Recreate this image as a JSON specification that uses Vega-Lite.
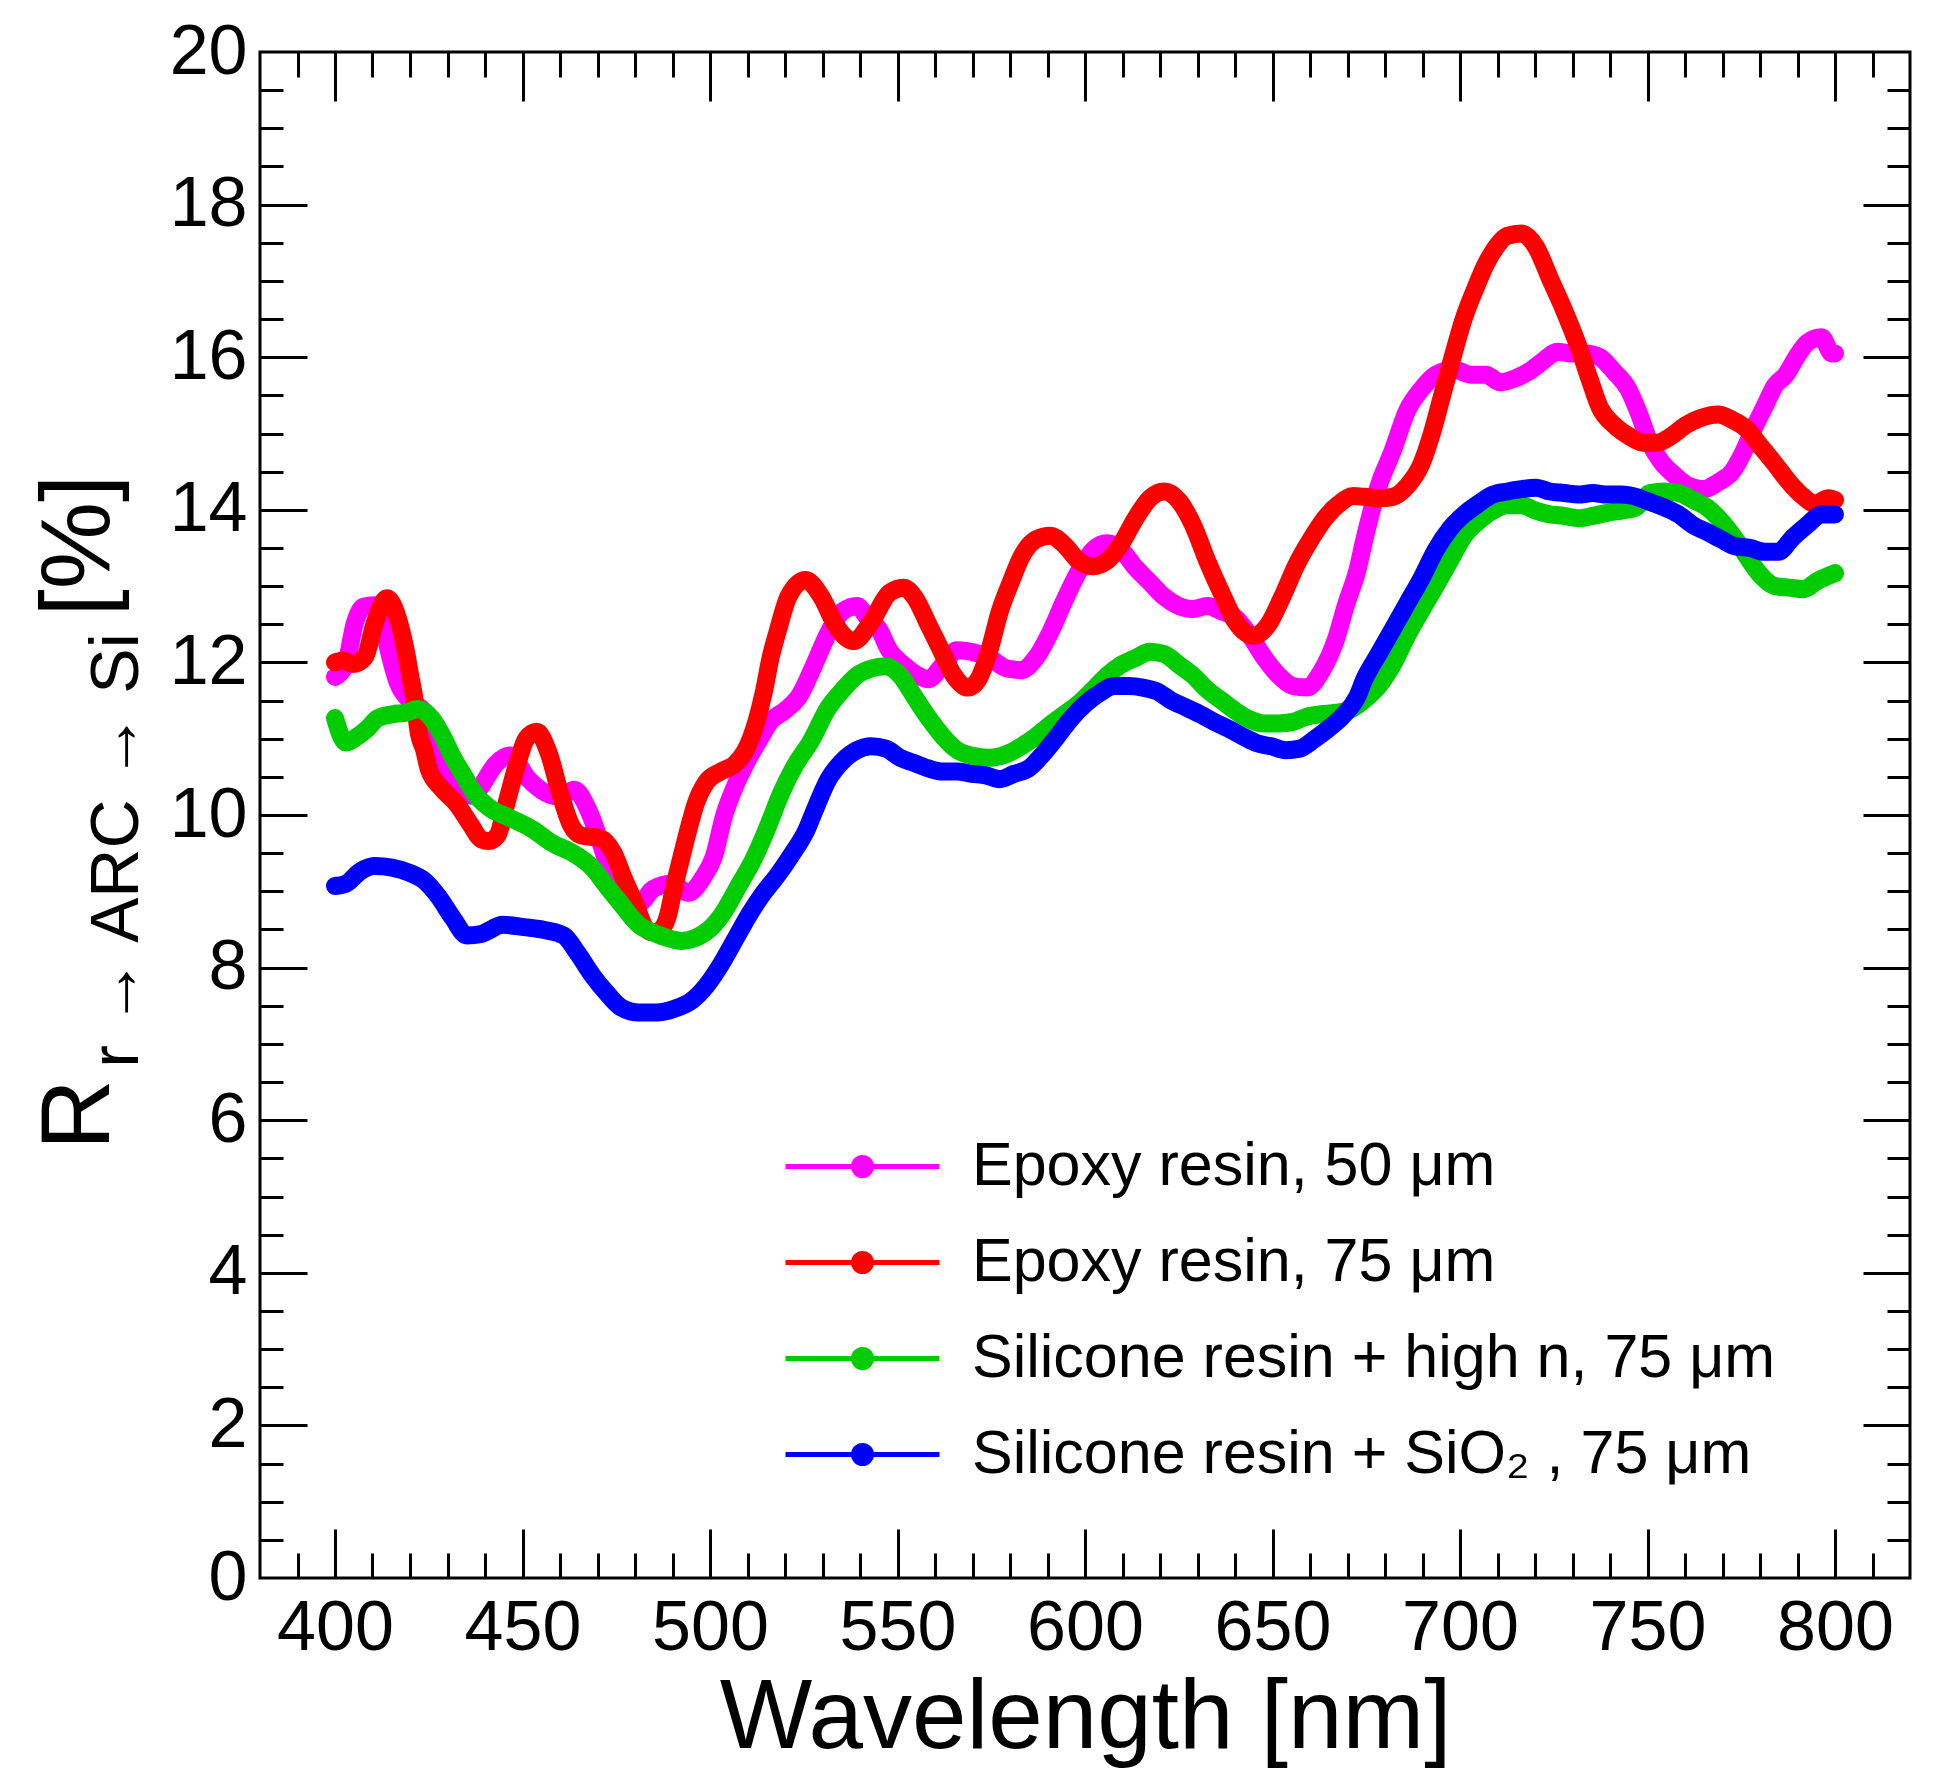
{
  "$schema": "https://vega.github.io/schema/vega-lite/v6.json",
  "autosize": "none",
  "width": 1650,
  "height": 1526,
  "padding": {"left": 260, "top": 52, "right": 31, "bottom": 203},
  "background": "white",
  "config": {
    "font": "Liberation Sans",
    "view": {"stroke": "black", "strokeWidth": 3},
    "axis": {
      "labelFont": "Liberation Sans",
      "titleFont": "Liberation Sans",
      "labelColor": "black",
      "titleColor": "black",
      "titleFontWeight": "normal",
      "tickColor": "black",
      "tickWidth": 3,
      "grid": false,
      "domain": false
    }
  },
  "data": {
    "values": [
      {"s":"E50","wl":400,"R":11.81},{"s":"E50","wl":402.9,"R":11.98},{"s":"E50","wl":405.2,"R":12.5},{"s":"E50","wl":407.6,"R":12.73},
      {"s":"E50","wl":410.5,"R":12.75},{"s":"E50","wl":412.4,"R":12.59},{"s":"E50","wl":414.3,"R":12.16},{"s":"E50","wl":416.7,"R":11.74},
      {"s":"E50","wl":420,"R":11.5},{"s":"E50","wl":423.8,"R":11.36},{"s":"E50","wl":426.7,"R":11.13},{"s":"E50","wl":428.6,"R":10.76},
      {"s":"E50","wl":431.4,"R":10.48},{"s":"E50","wl":434.3,"R":10.29},{"s":"E50","wl":437,"R":10.25},{"s":"E50","wl":439,"R":10.38},
      {"s":"E50","wl":442.9,"R":10.67},{"s":"E50","wl":446.7,"R":10.78},{"s":"E50","wl":451.4,"R":10.48},{"s":"E50","wl":456.2,"R":10.29},
      {"s":"E50","wl":460,"R":10.24},{"s":"E50","wl":463.8,"R":10.33},{"s":"E50","wl":467.6,"R":10.06},{"s":"E50","wl":470.5,"R":9.68},
      {"s":"E50","wl":474.3,"R":9.12},{"s":"E50","wl":477.1,"R":8.84},{"s":"E50","wl":481,"R":8.84},{"s":"E50","wl":484.8,"R":9.03},
      {"s":"E50","wl":489.5,"R":9.1},{"s":"E50","wl":494.3,"R":8.98},{"s":"E50","wl":498,"R":9.17},{"s":"E50","wl":501,"R":9.45},
      {"s":"E50","wl":503.8,"R":10.0},{"s":"E50","wl":506.7,"R":10.38},{"s":"E50","wl":509.5,"R":10.67},{"s":"E50","wl":513.3,"R":11.0},
      {"s":"E50","wl":516.2,"R":11.23},{"s":"E50","wl":520,"R":11.37},{"s":"E50","wl":523.8,"R":11.56},{"s":"E50","wl":527.8,"R":11.97},
      {"s":"E50","wl":531.6,"R":12.39},{"s":"E50","wl":535.4,"R":12.67},{"s":"E50","wl":539.2,"R":12.74},{"s":"E50","wl":542.1,"R":12.58},
      {"s":"E50","wl":545,"R":12.44},{"s":"E50","wl":547.8,"R":12.16},{"s":"E50","wl":551.6,"R":11.97},{"s":"E50","wl":555.4,"R":11.83},
      {"s":"E50","wl":558.3,"R":11.78},{"s":"E50","wl":562.1,"R":11.97},{"s":"E50","wl":565.9,"R":12.16},{"s":"E50","wl":569.7,"R":12.14},
      {"s":"E50","wl":574.5,"R":12.06},{"s":"E50","wl":579.2,"R":11.92},{"s":"E50","wl":583,"R":11.9},{"s":"E50","wl":586.9,"R":12.06},
      {"s":"E50","wl":590.7,"R":12.39},{"s":"E50","wl":594.5,"R":12.81},{"s":"E50","wl":598.3,"R":13.19},{"s":"E50","wl":602.1,"R":13.47},
      {"s":"E50","wl":605.9,"R":13.56},{"s":"E50","wl":609.7,"R":13.47},{"s":"E50","wl":613.5,"R":13.24},{"s":"E50","wl":617.3,"R":13.05},
      {"s":"E50","wl":621.1,"R":12.86},{"s":"E50","wl":625,"R":12.74},{"s":"E50","wl":628.8,"R":12.7},{"s":"E50","wl":632.6,"R":12.74},
      {"s":"E50","wl":636.4,"R":12.67},{"s":"E50","wl":640.2,"R":12.58},{"s":"E50","wl":644,"R":12.35},{"s":"E50","wl":647.8,"R":12.06},
      {"s":"E50","wl":651.6,"R":11.83},{"s":"E50","wl":655.4,"R":11.69},{"s":"E50","wl":659.2,"R":11.67},{"s":"E50","wl":663,"R":11.88},
      {"s":"E50","wl":666.9,"R":12.3},{"s":"E50","wl":669.7,"R":12.77},{"s":"E50","wl":672.6,"R":13.2},{"s":"E50","wl":674.5,"R":13.61},
      {"s":"E50","wl":678.3,"R":14.31},{"s":"E50","wl":682.1,"R":14.78},{"s":"E50","wl":685.9,"R":15.3},{"s":"E50","wl":689.7,"R":15.58},
      {"s":"E50","wl":693.5,"R":15.77},{"s":"E50","wl":698.3,"R":15.84},{"s":"E50","wl":703,"R":15.77},{"s":"E50","wl":706.9,"R":15.77},
      {"s":"E50","wl":710.7,"R":15.67},{"s":"E50","wl":714.5,"R":15.72},{"s":"E50","wl":718.3,"R":15.81},{"s":"E50","wl":722.1,"R":15.95},
      {"s":"E50","wl":725.9,"R":16.07},{"s":"E50","wl":729.7,"R":16.05},{"s":"E50","wl":733.5,"R":16.05},{"s":"E50","wl":737.3,"R":16.0},
      {"s":"E50","wl":741.1,"R":15.81},{"s":"E50","wl":744.9,"R":15.58},{"s":"E50","wl":747.8,"R":15.25},{"s":"E50","wl":750.6,"R":14.88},
      {"s":"E50","wl":753.5,"R":14.64},{"s":"E50","wl":757.3,"R":14.45},{"s":"E50","wl":761.1,"R":14.31},{"s":"E50","wl":764.9,"R":14.27},
      {"s":"E50","wl":768.8,"R":14.36},{"s":"E50","wl":772.6,"R":14.5},{"s":"E50","wl":775.4,"R":14.74},{"s":"E50","wl":778.3,"R":15.06},
      {"s":"E50","wl":781.1,"R":15.34},{"s":"E50","wl":784,"R":15.63},{"s":"E50","wl":786.9,"R":15.77},{"s":"E50","wl":789.7,"R":16.0},
      {"s":"E50","wl":792.6,"R":16.19},{"s":"E50","wl":796.4,"R":16.26},{"s":"E50","wl":799.2,"R":16.05},{"s":"E50","wl":800,"R":16.05},

      {"s":"E75","wl":400,"R":12.0},{"s":"E75","wl":402,"R":12.02},{"s":"E75","wl":405,"R":11.98},{"s":"E75","wl":408,"R":12.07},
      {"s":"E75","wl":410.5,"R":12.5},{"s":"E75","wl":413.8,"R":12.84},{"s":"E75","wl":416.7,"R":12.59},{"s":"E75","wl":418,"R":12.35},
      {"s":"E75","wl":419,"R":12.12},{"s":"E75","wl":420,"R":11.84},{"s":"E75","wl":421,"R":11.58},{"s":"E75","wl":422.4,"R":11.06},
      {"s":"E75","wl":423.8,"R":10.85},{"s":"E75","wl":425,"R":10.6},{"s":"E75","wl":428.6,"R":10.34},{"s":"E75","wl":432.4,"R":10.15},
      {"s":"E75","wl":436.2,"R":9.87},{"s":"E75","wl":439,"R":9.68},{"s":"E75","wl":441,"R":9.66},{"s":"E75","wl":443.3,"R":9.73},
      {"s":"E75","wl":445.7,"R":10.15},{"s":"E75","wl":448.6,"R":10.67},{"s":"E75","wl":451,"R":11.0},{"s":"E75","wl":453.8,"R":11.09},
      {"s":"E75","wl":457,"R":10.81},{"s":"E75","wl":460,"R":10.29},{"s":"E75","wl":462.9,"R":9.87},{"s":"E75","wl":465.7,"R":9.73},
      {"s":"E75","wl":470.5,"R":9.7},{"s":"E75","wl":474.3,"R":9.5},{"s":"E75","wl":477,"R":9.17},{"s":"E75","wl":480,"R":8.84},
      {"s":"E75","wl":482.9,"R":8.51},{"s":"E75","wl":484.8,"R":8.46},{"s":"E75","wl":487,"R":8.5},{"s":"E75","wl":488.6,"R":8.65},
      {"s":"E75","wl":490.5,"R":9.07},{"s":"E75","wl":492.4,"R":9.45},{"s":"E75","wl":494.3,"R":9.82},{"s":"E75","wl":496.2,"R":10.15},
      {"s":"E75","wl":499,"R":10.43},{"s":"E75","wl":502.9,"R":10.57},{"s":"E75","wl":506.7,"R":10.67},{"s":"E75","wl":509.5,"R":10.85},
      {"s":"E75","wl":512.4,"R":11.23},{"s":"E75","wl":514.3,"R":11.6},{"s":"E75","wl":516.2,"R":12.07},{"s":"E75","wl":518,"R":12.4},
      {"s":"E75","wl":521,"R":12.87},{"s":"E75","wl":525.5,"R":13.08},{"s":"E75","wl":529.7,"R":12.86},{"s":"E75","wl":533.5,"R":12.49},
      {"s":"E75","wl":538.3,"R":12.28},{"s":"E75","wl":543,"R":12.53},{"s":"E75","wl":547.8,"R":12.91},{"s":"E75","wl":551.6,"R":12.98},
      {"s":"E75","wl":554.5,"R":12.86},{"s":"E75","wl":558.3,"R":12.49},{"s":"E75","wl":562.1,"R":12.11},{"s":"E75","wl":565,"R":11.83},
      {"s":"E75","wl":568.8,"R":11.67},{"s":"E75","wl":571.6,"R":11.78},{"s":"E75","wl":574.5,"R":12.16},{"s":"E75","wl":577.3,"R":12.67},
      {"s":"E75","wl":580.2,"R":13.05},{"s":"E75","wl":583,"R":13.38},{"s":"E75","wl":586.9,"R":13.61},{"s":"E75","wl":590.7,"R":13.66},
      {"s":"E75","wl":594.5,"R":13.54},{"s":"E75","wl":598.3,"R":13.33},{"s":"E75","wl":602.1,"R":13.26},{"s":"E75","wl":605.9,"R":13.33},
      {"s":"E75","wl":609.7,"R":13.56},{"s":"E75","wl":613.5,"R":13.89},{"s":"E75","wl":617.3,"R":14.15},{"s":"E75","wl":621.1,"R":14.24},
      {"s":"E75","wl":625,"R":14.12},{"s":"E75","wl":628.8,"R":13.8},{"s":"E75","wl":632.6,"R":13.33},{"s":"E75","wl":636.4,"R":12.91},
      {"s":"E75","wl":640.2,"R":12.53},{"s":"E75","wl":645,"R":12.35},{"s":"E75","wl":648.8,"R":12.49},{"s":"E75","wl":652.6,"R":12.86},
      {"s":"E75","wl":656.4,"R":13.28},{"s":"E75","wl":660.2,"R":13.61},{"s":"E75","wl":664,"R":13.89},{"s":"E75","wl":667.8,"R":14.08},
      {"s":"E75","wl":671.6,"R":14.18},{"s":"E75","wl":674.5,"R":14.17},{"s":"E75","wl":678.3,"R":14.15},{"s":"E75","wl":682.1,"R":14.17},
      {"s":"E75","wl":685.9,"R":14.31},{"s":"E75","wl":689.7,"R":14.6},{"s":"E75","wl":692.6,"R":15.02},{"s":"E75","wl":695.4,"R":15.53},
      {"s":"E75","wl":698.3,"R":16.05},{"s":"E75","wl":701.1,"R":16.52},{"s":"E75","wl":704,"R":16.89},{"s":"E75","wl":706.9,"R":17.22},
      {"s":"E75","wl":709.7,"R":17.45},{"s":"E75","wl":712.6,"R":17.59},{"s":"E75","wl":716.4,"R":17.62},{"s":"E75","wl":720.2,"R":17.45},
      {"s":"E75","wl":724,"R":17.03},{"s":"E75","wl":727.8,"R":16.61},{"s":"E75","wl":731.6,"R":16.14},{"s":"E75","wl":734.5,"R":15.72},
      {"s":"E75","wl":737.3,"R":15.34},{"s":"E75","wl":741.1,"R":15.11},{"s":"E75","wl":744.9,"R":14.97},{"s":"E75","wl":748.8,"R":14.88},
      {"s":"E75","wl":752.6,"R":14.88},{"s":"E75","wl":756.4,"R":14.97},{"s":"E75","wl":760.2,"R":15.11},{"s":"E75","wl":764,"R":15.2},
      {"s":"E75","wl":768.8,"R":15.25},{"s":"E75","wl":772.6,"R":15.18},{"s":"E75","wl":776.4,"R":15.06},{"s":"E75","wl":780.2,"R":14.83},
      {"s":"E75","wl":784,"R":14.6},{"s":"E75","wl":787.8,"R":14.36},{"s":"E75","wl":791.6,"R":14.17},{"s":"E75","wl":794.5,"R":14.08},
      {"s":"E75","wl":798.3,"R":14.15},{"s":"E75","wl":800,"R":14.13},

      {"s":"SHN","wl":400,"R":11.27},{"s":"SHN","wl":402.9,"R":10.95},{"s":"SHN","wl":405.7,"R":11.02},{"s":"SHN","wl":408.6,"R":11.13},
      {"s":"SHN","wl":411.4,"R":11.27},{"s":"SHN","wl":415.2,"R":11.32},{"s":"SHN","wl":419,"R":11.34},{"s":"SHN","wl":421.9,"R":11.39},
      {"s":"SHN","wl":425.7,"R":11.27},{"s":"SHN","wl":428.6,"R":11.04},{"s":"SHN","wl":431.4,"R":10.76},{"s":"SHN","wl":434.3,"R":10.52},
      {"s":"SHN","wl":437.1,"R":10.29},{"s":"SHN","wl":441,"R":10.1},{"s":"SHN","wl":446.7,"R":9.96},{"s":"SHN","wl":452.4,"R":9.82},
      {"s":"SHN","wl":458,"R":9.63},{"s":"SHN","wl":463.8,"R":9.49},{"s":"SHN","wl":468.6,"R":9.31},{"s":"SHN","wl":472.4,"R":9.07},
      {"s":"SHN","wl":476.2,"R":8.84},{"s":"SHN","wl":481,"R":8.56},{"s":"SHN","wl":484.8,"R":8.46},{"s":"SHN","wl":488.6,"R":8.39},
      {"s":"SHN","wl":492.4,"R":8.35},{"s":"SHN","wl":496.2,"R":8.39},{"s":"SHN","wl":500,"R":8.51},{"s":"SHN","wl":503.8,"R":8.74},
      {"s":"SHN","wl":507.6,"R":9.07},{"s":"SHN","wl":511.4,"R":9.4},{"s":"SHN","wl":515.2,"R":9.82},{"s":"SHN","wl":519,"R":10.29},
      {"s":"SHN","wl":522.9,"R":10.67},{"s":"SHN","wl":526.7,"R":10.95},{"s":"SHN","wl":531.6,"R":11.41},{"s":"SHN","wl":535.4,"R":11.64},
      {"s":"SHN","wl":539.2,"R":11.83},{"s":"SHN","wl":543,"R":11.92},{"s":"SHN","wl":546.9,"R":11.95},{"s":"SHN","wl":550.7,"R":11.83},
      {"s":"SHN","wl":554.5,"R":11.55},{"s":"SHN","wl":558.3,"R":11.27},{"s":"SHN","wl":562.1,"R":11.03},{"s":"SHN","wl":565.9,"R":10.85},
      {"s":"SHN","wl":569.7,"R":10.78},{"s":"SHN","wl":574.5,"R":10.75},{"s":"SHN","wl":579.2,"R":10.8},{"s":"SHN","wl":583,"R":10.9},
      {"s":"SHN","wl":586.9,"R":11.03},{"s":"SHN","wl":590.7,"R":11.18},{"s":"SHN","wl":594.5,"R":11.32},{"s":"SHN","wl":598.3,"R":11.46},
      {"s":"SHN","wl":602.1,"R":11.64},{"s":"SHN","wl":605.9,"R":11.83},{"s":"SHN","wl":609.7,"R":11.97},{"s":"SHN","wl":613.5,"R":12.06},
      {"s":"SHN","wl":617.3,"R":12.14},{"s":"SHN","wl":621.1,"R":12.11},{"s":"SHN","wl":625,"R":11.97},{"s":"SHN","wl":628.8,"R":11.83},
      {"s":"SHN","wl":632.6,"R":11.64},{"s":"SHN","wl":636.4,"R":11.5},{"s":"SHN","wl":640.2,"R":11.36},{"s":"SHN","wl":644,"R":11.25},
      {"s":"SHN","wl":647.8,"R":11.2},{"s":"SHN","wl":651.6,"R":11.2},{"s":"SHN","wl":655.4,"R":11.22},{"s":"SHN","wl":659.2,"R":11.29},
      {"s":"SHN","wl":663,"R":11.32},{"s":"SHN","wl":666.9,"R":11.34},{"s":"SHN","wl":670.7,"R":11.38},{"s":"SHN","wl":674.5,"R":11.51},
      {"s":"SHN","wl":678.3,"R":11.69},{"s":"SHN","wl":682.1,"R":11.97},{"s":"SHN","wl":685.9,"R":12.35},{"s":"SHN","wl":689.7,"R":12.68},
      {"s":"SHN","wl":693.5,"R":13.0},{"s":"SHN","wl":697.3,"R":13.33},{"s":"SHN","wl":701.1,"R":13.66},{"s":"SHN","wl":704.9,"R":13.85},
      {"s":"SHN","wl":708.8,"R":13.99},{"s":"SHN","wl":712.6,"R":14.06},{"s":"SHN","wl":716.4,"R":14.06},{"s":"SHN","wl":720.2,"R":13.99},
      {"s":"SHN","wl":724,"R":13.94},{"s":"SHN","wl":727.8,"R":13.92},{"s":"SHN","wl":731.6,"R":13.89},{"s":"SHN","wl":735.4,"R":13.92},
      {"s":"SHN","wl":739.2,"R":13.96},{"s":"SHN","wl":743.1,"R":13.99},{"s":"SHN","wl":746.9,"R":14.03},{"s":"SHN","wl":750.7,"R":14.22},
      {"s":"SHN","wl":754.5,"R":14.24},{"s":"SHN","wl":758.3,"R":14.22},{"s":"SHN","wl":762.1,"R":14.13},{"s":"SHN","wl":765.9,"R":14.03},
      {"s":"SHN","wl":769.7,"R":13.85},{"s":"SHN","wl":773.5,"R":13.61},{"s":"SHN","wl":777.3,"R":13.33},{"s":"SHN","wl":780.2,"R":13.14},
      {"s":"SHN","wl":784,"R":13.0},{"s":"SHN","wl":787.8,"R":12.98},{"s":"SHN","wl":791.6,"R":12.96},{"s":"SHN","wl":795.4,"R":13.07},
      {"s":"SHN","wl":800,"R":13.17},

      {"s":"SO2","wl":400,"R":9.07},{"s":"SO2","wl":402.9,"R":9.1},{"s":"SO2","wl":406.7,"R":9.26},{"s":"SO2","wl":410.5,"R":9.33},
      {"s":"SO2","wl":415.2,"R":9.31},{"s":"SO2","wl":420,"R":9.24},{"s":"SO2","wl":423.8,"R":9.14},{"s":"SO2","wl":427.6,"R":8.93},
      {"s":"SO2","wl":431.4,"R":8.65},{"s":"SO2","wl":435.2,"R":8.42},{"s":"SO2","wl":439,"R":8.44},{"s":"SO2","wl":444.8,"R":8.56},
      {"s":"SO2","wl":450.5,"R":8.53},{"s":"SO2","wl":456.2,"R":8.49},{"s":"SO2","wl":461,"R":8.42},{"s":"SO2","wl":464.8,"R":8.18},
      {"s":"SO2","wl":468.6,"R":7.9},{"s":"SO2","wl":472.4,"R":7.67},{"s":"SO2","wl":476.2,"R":7.48},{"s":"SO2","wl":481,"R":7.41},
      {"s":"SO2","wl":485.7,"R":7.41},{"s":"SO2","wl":490.5,"R":7.46},{"s":"SO2","wl":495.2,"R":7.57},{"s":"SO2","wl":499,"R":7.76},
      {"s":"SO2","wl":502.9,"R":8.04},{"s":"SO2","wl":506.7,"R":8.37},{"s":"SO2","wl":510.5,"R":8.7},{"s":"SO2","wl":514.3,"R":8.98},
      {"s":"SO2","wl":518,"R":9.21},{"s":"SO2","wl":521.9,"R":9.49},{"s":"SO2","wl":525.7,"R":9.8},{"s":"SO2","wl":527.8,"R":10.05},
      {"s":"SO2","wl":531.6,"R":10.47},{"s":"SO2","wl":535.4,"R":10.71},{"s":"SO2","wl":539.2,"R":10.85},{"s":"SO2","wl":543,"R":10.9},
      {"s":"SO2","wl":546.9,"R":10.87},{"s":"SO2","wl":550.7,"R":10.75},{"s":"SO2","wl":554.5,"R":10.68},{"s":"SO2","wl":558.3,"R":10.61},
      {"s":"SO2","wl":562.1,"R":10.57},{"s":"SO2","wl":565.9,"R":10.57},{"s":"SO2","wl":569.7,"R":10.54},{"s":"SO2","wl":573.5,"R":10.52},
      {"s":"SO2","wl":577.3,"R":10.47},{"s":"SO2","wl":581.1,"R":10.54},{"s":"SO2","wl":585,"R":10.61},{"s":"SO2","wl":588.8,"R":10.8},
      {"s":"SO2","wl":592.6,"R":11.03},{"s":"SO2","wl":596.4,"R":11.27},{"s":"SO2","wl":600.2,"R":11.46},{"s":"SO2","wl":604,"R":11.6},
      {"s":"SO2","wl":607.8,"R":11.69},{"s":"SO2","wl":611.6,"R":11.69},{"s":"SO2","wl":615.4,"R":11.67},{"s":"SO2","wl":619.2,"R":11.62},
      {"s":"SO2","wl":623,"R":11.5},{"s":"SO2","wl":626.9,"R":11.41},{"s":"SO2","wl":630.7,"R":11.32},{"s":"SO2","wl":634.5,"R":11.22},
      {"s":"SO2","wl":638.3,"R":11.13},{"s":"SO2","wl":642.1,"R":11.03},{"s":"SO2","wl":645.9,"R":10.94},{"s":"SO2","wl":649.7,"R":10.9},
      {"s":"SO2","wl":653.5,"R":10.85},{"s":"SO2","wl":657.3,"R":10.87},{"s":"SO2","wl":661.1,"R":10.99},{"s":"SO2","wl":664.9,"R":11.13},
      {"s":"SO2","wl":668.8,"R":11.3},{"s":"SO2","wl":672.6,"R":11.55},{"s":"SO2","wl":674.5,"R":11.78},{"s":"SO2","wl":678.3,"R":12.11},
      {"s":"SO2","wl":682.1,"R":12.44},{"s":"SO2","wl":685.9,"R":12.77},{"s":"SO2","wl":689.7,"R":13.1},{"s":"SO2","wl":693.5,"R":13.47},
      {"s":"SO2","wl":697.3,"R":13.75},{"s":"SO2","wl":701.1,"R":13.94},{"s":"SO2","wl":704.9,"R":14.08},{"s":"SO2","wl":708.8,"R":14.2},
      {"s":"SO2","wl":712.6,"R":14.24},{"s":"SO2","wl":716.4,"R":14.27},{"s":"SO2","wl":720.2,"R":14.29},{"s":"SO2","wl":724,"R":14.24},
      {"s":"SO2","wl":727.8,"R":14.22},{"s":"SO2","wl":731.6,"R":14.2},{"s":"SO2","wl":735.4,"R":14.22},{"s":"SO2","wl":739.2,"R":14.2},
      {"s":"SO2","wl":743.1,"R":14.2},{"s":"SO2","wl":746.9,"R":14.17},{"s":"SO2","wl":750.7,"R":14.1},{"s":"SO2","wl":754.5,"R":14.03},
      {"s":"SO2","wl":758.3,"R":13.94},{"s":"SO2","wl":762.1,"R":13.8},{"s":"SO2","wl":765.9,"R":13.71},{"s":"SO2","wl":769.7,"R":13.61},
      {"s":"SO2","wl":773.5,"R":13.52},{"s":"SO2","wl":777.3,"R":13.5},{"s":"SO2","wl":781.1,"R":13.45},{"s":"SO2","wl":784.9,"R":13.45},
      {"s":"SO2","wl":788.8,"R":13.64},{"s":"SO2","wl":792.6,"R":13.8},{"s":"SO2","wl":796.4,"R":13.94},{"s":"SO2","wl":800,"R":13.94}
    ]
  },
  "layer": [
    {
      "mark": {"type": "line", "strokeWidth": 18, "strokeCap": "round", "strokeJoin": "round", "interpolate": "monotone"},
      "encoding": {
        "x": {
          "field": "wl", "type": "quantitative",
          "scale": {"domain": [380, 820], "nice": false, "zero": false},
          "axis": {
            "orient": "bottom",
            "values": [400, 450, 500, 550, 600, 650, 700, 750, 800],
            "ticks": false,
            "labelFontSize": 70,
            "labelPadding": 16,
            "labelBaseline": "top",
            "labelFlush": false,
            "labelOverlap": false,
            "title": "Wavelength [nm]",
            "titleFontSize": 98,
            "titleBaseline": "alphabetic",
            "titleAlign": "center",
            "titleX": 825,
            "titleY": 169
          }
        },
        "y": {
          "field": "R", "type": "quantitative",
          "scale": {"domain": [0, 20], "nice": false, "zero": false},
          "axis": {
            "orient": "left",
            "values": [0, 2, 4, 6, 8, 10, 12, 14, 16, 18, 20],
            "ticks": false,
            "labelFontSize": 70,
            "labelPadding": 13,
            "labelFlush": false,
            "labelOverlap": false,
            "title": "R\u00a0\u00a0\u00a0\u00a0\u00a0\u00a0\u00a0\u00a0\u00a0\u00a0\u00a0\u00a0\u00a0\u00a0\u00a0\u00a0\u00a0[%]",
            "titleFontSize": 98,
            "titleAngle": 270,
            "titleAlign": "center",
            "titleBaseline": "alphabetic",
            "titleX": -152,
            "titleY": 760
          }
        },
        "color": {
          "field": "s", "type": "nominal",
          "scale": {"domain": ["E50", "E75", "SHN", "SO2"], "range": ["#ff00ff", "#ff0000", "#00cc00", "#0000ff"]},
          "legend": {
            "orient": "none",
            "legendX": 572,
            "legendY": 1084,
            "title": null,
            "padding": 0,
            "symbolType": "M-7.7,0L7.7,0M0.9,0A0.9,0.9,0,1,1,-0.9,0A0.9,0.9,0,1,1,0.9,0Z",
            "symbolSize": 400,
            "symbolStrokeWidth": 5,
            "labelFontSize": 61,
            "labelFont": "Liberation Sans",
            "labelColor": "black",
            "labelOffset": 79,
            "labelLimit": 2000,
            "rowPadding": 34,
            "labelExpr": "datum.value === 'E50' ? 'Epoxy resin, 50 μm' : datum.value === 'E75' ? 'Epoxy resin, 75 μm' : datum.value === 'SHN' ? 'Silicone resin + high n, 75 μm' : 'Silicone resin + SiO₂ , 75 μm'",
            "encode": {"symbols": {"update": {"fill": {"scale": "color", "field": "value"}, "opacity": {"value": 1}}}}
          }
        }
      }
    },
    {
      "mark": {"type": "point", "opacity": 0},
      "encoding": {
        "x": {
          "field": "wl", "type": "quantitative",
          "scale": {"domain": [380, 820], "nice": false, "zero": false},
          "axis": {
            "orient": "top", "offset": -1526,
            "values": [390, 400, 410, 420, 430, 440, 450, 460, 470, 480, 490, 500, 510, 520, 530, 540, 550, 560, 570, 580, 590, 600, 610, 620, 630, 640, 650, 660, 670, 680, 690, 700, 710, 720, 730, 740, 750, 760, 770, 780, 790, 800, 810],
            "labels": false, "title": null,
            "tickSize": {"condition": {"test": "datum.value % 50 === 0", "value": 49}, "value": 25}
          }
        },
        "y": {
          "field": "R", "type": "quantitative",
          "scale": {"domain": [0, 20], "nice": false, "zero": false},
          "axis": {
            "orient": "right", "offset": -1650,
            "values": [0.5, 1, 1.5, 2, 2.5, 3, 3.5, 4, 4.5, 5, 5.5, 6, 6.5, 7, 7.5, 8, 8.5, 9, 9.5, 10, 10.5, 11, 11.5, 12, 12.5, 13, 13.5, 14, 14.5, 15, 15.5, 16, 16.5, 17, 17.5, 18, 18.5, 19, 19.5],
            "labels": false,
            "tickSize": {"condition": {"test": "datum.value % 2 === 0", "value": 47}, "value": 23},
            "title": "r → ARC → Si",
            "titleFontSize": 68,
            "titleAngle": 270,
            "titleAlign": "center",
            "titleBaseline": "alphabetic",
            "titleX": -123,
            "titleY": 798
          }
        }
      }
    },
    {
      "mark": {"type": "point", "opacity": 0},
      "encoding": {
        "x": {
          "field": "wl", "type": "quantitative",
          "scale": {"domain": [380, 820], "nice": false, "zero": false},
          "axis": {
            "orient": "bottom", "offset": -1526,
            "values": [390, 400, 410, 420, 430, 440, 450, 460, 470, 480, 490, 500, 510, 520, 530, 540, 550, 560, 570, 580, 590, 600, 610, 620, 630, 640, 650, 660, 670, 680, 690, 700, 710, 720, 730, 740, 750, 760, 770, 780, 790, 800, 810],
            "labels": false, "title": null,
            "tickSize": {"condition": {"test": "datum.value % 50 === 0", "value": 49}, "value": 25}
          }
        },
        "y": {
          "field": "R", "type": "quantitative",
          "scale": {"domain": [0, 20], "nice": false, "zero": false},
          "axis": {
            "orient": "left", "offset": -1650,
            "values": [0.5, 1, 1.5, 2, 2.5, 3, 3.5, 4, 4.5, 5, 5.5, 6, 6.5, 7, 7.5, 8, 8.5, 9, 9.5, 10, 10.5, 11, 11.5, 12, 12.5, 13, 13.5, 14, 14.5, 15, 15.5, 16, 16.5, 17, 17.5, 18, 18.5, 19, 19.5],
            "labels": false, "title": null,
            "tickSize": {"condition": {"test": "datum.value % 2 === 0", "value": 47}, "value": 23}
          }
        }
      }
    }
  ],
  "resolve": {"axis": {"x": "independent", "y": "independent"}}
}
